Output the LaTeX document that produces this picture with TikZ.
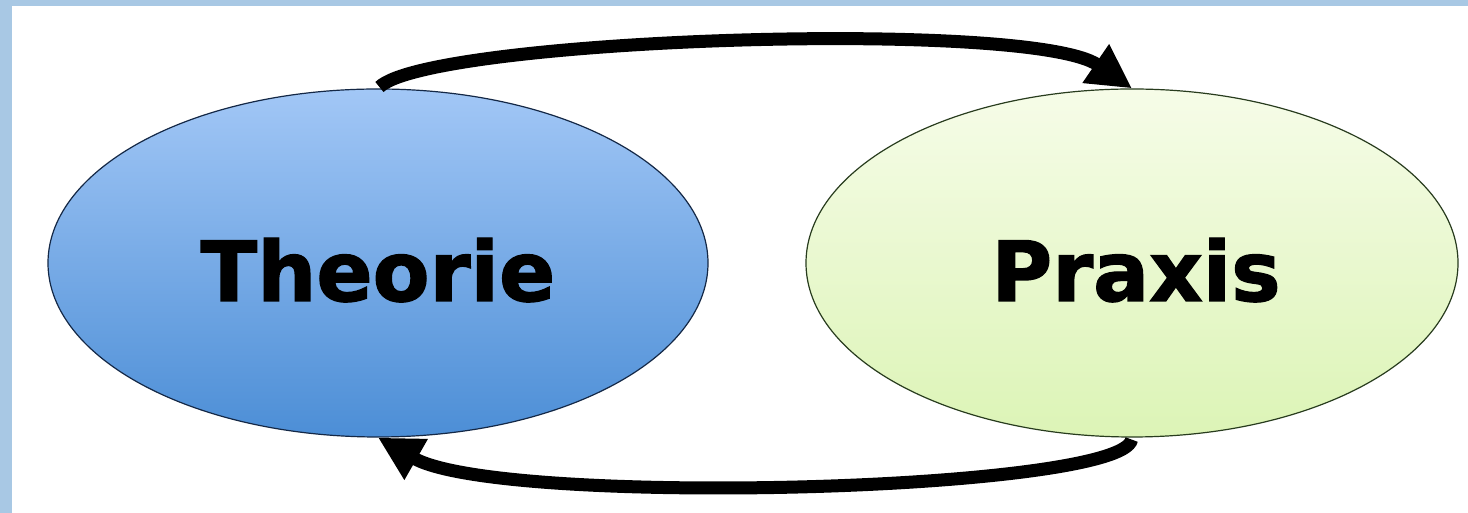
\documentclass[tikz,border=0pt]{standalone}
\usepackage{fontspec}
\newfontfamily\labelfont{DejaVu Sans}[BoldFeatures={FakeBold=1.6}]
\usetikzlibrary{shapes.geometric,arrows.meta}
\definecolor{frameblue}{RGB}{168,200,228}
\definecolor{blueTop}{RGB}{162,199,246}
\definecolor{blueBot}{RGB}{76,142,214}
\definecolor{greenTop}{RGB}{246,252,232}
\definecolor{greenBot}{RGB}{220,244,182}
\definecolor{blueEdge}{RGB}{20,40,70}
\definecolor{greenEdge}{RGB}{40,60,30}
\tikzset{
  bubble/.style={ellipse, inner sep=0pt, minimum height=348pt, line width=1.2pt},
  bigtext/.style={font=\labelfont\bfseries\fontsize{83}{100}\selectfont, anchor=base, inner sep=0pt},
  cyclearrow/.style={line width=13pt, -{Triangle[length=44pt,width=44pt]}, shorten <=2pt}
}
\begin{document}
\begin{tikzpicture}[x=1pt,y=1pt]
\useasboundingbox (0,0) rectangle (1468,513);
\fill[white] (0,0) rectangle (1468,513);
\fill[frameblue] (0,0) rectangle (12,513);
\fill[frameblue] (0,507) rectangle (1468,513);
\node[bubble, minimum width=660pt, draw=blueEdge, top color=blueTop, bottom color=blueBot] (T) at (378,250) {};
\node[bubble, minimum width=652pt, draw=greenEdge, top color=greenTop, bottom color=greenBot] (P) at (1132,250) {};
\node[bigtext] (tt) at ([yshift=-38pt]T.center) {Theorie};
\node[bigtext] (pt) at ([xshift=4pt,yshift=-38pt]P.center) {Praxis};
\draw[cyclearrow] (T.north) .. controls +(52,50) and +(-102,70) .. (P.north);
\draw[cyclearrow] (P.south) .. controls +(-10,-54) and +(122,-70) .. (T.south);
\end{tikzpicture}
\end{document}
